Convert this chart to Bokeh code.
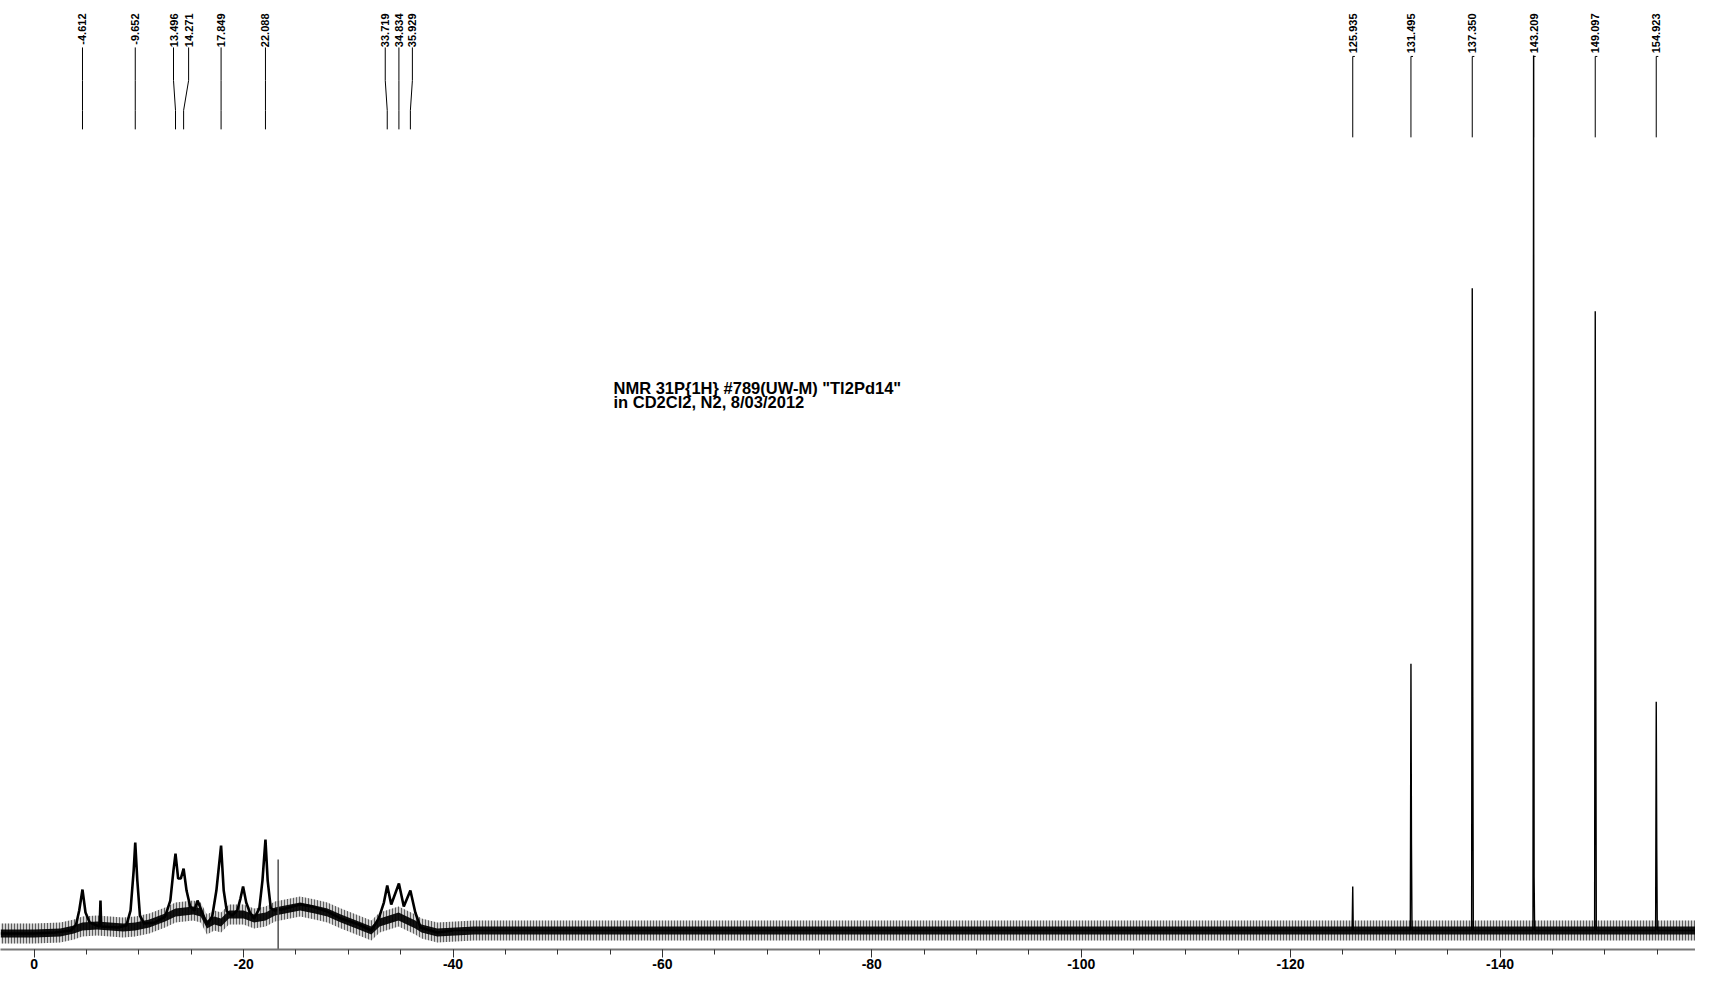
import math
from bokeh.plotting import figure
from bokeh.models import Range1d, FixedTicker, CustomJSTickFormatter, Label
from bokeh.core.properties import value
from bokeh.embed import file_html
from bokeh.resources import INLINE

# ---------------- data ----------------
# labelled peaks (ppm) and their printed labels
peak_ppm = [-4.612, -9.652, -13.496, -14.271, -17.849, -22.088, -33.719, -34.834, -35.929,
            -125.935, -131.495, -137.350, -143.209, -149.097, -154.923]
peak_labels = ["-4.612", "-9.652", "13.496", "14.271", "17.849", "22.088", "33.719", "34.834",
               "35.929", "125.935", "131.495", "137.350", "143.209", "149.097", "154.923"]

# broad region of the spectrum (ppm, intensity, arbitrary units)
broad_ppm = [3.2, 0.0, -2.0, -3.5, -4.0, -4.3, -4.612, -4.9, -5.3, -6.0, -6.25, -6.33, -6.4, -8.0,
             -8.8, -9.2, -9.5, -9.652, -9.85, -10.1, -10.5, -11.5, -12.5, -13.0, -13.3, -13.496,
             -13.75, -14.0, -14.271, -14.55, -14.9, -15.3, -15.6, -15.9, -16.5, -17.0, -17.4,
             -17.849, -18.1, -18.4, -18.9, -19.4, -19.7, -19.95, -20.25, -20.6, -21.0, -21.5,
             -21.8, -22.088, -22.3, -22.6, -23.0, -24.0, -25.4, -26.5, -28.0, -29.3, -31.0,
             -32.2, -32.9, -33.4, -33.719, -34.1, -34.834, -35.3, -35.929, -36.4, -36.9, -38.5,
             -40.0]
broad_int = [-3, -3, -2, 0, 6, 20, 41, 18, 8, 5, 4, 30, 4, 3,
             5, 20, 60, 88, 50, 15, 7, 8, 14, 30, 60, 77,
             52, 52, 62, 40, 24, 20, 30, 22, 6, 14, 40,
             85, 40, 19, 15, 20, 32, 44, 28, 18, 12, 22,
             50, 91, 50, 22, 20, 22, 26, 24, 19, 12, 6,
             0, 12, 28, 45, 26, 47, 24, 40, 18, 3, -2,
             0]

# sharp lines: position, height, height of the adjacent shoulder line
sharp_ppm = [-125.935, -131.495, -137.350, -143.209, -149.097, -154.923]
sharp_h = [44, 267, 643, 876, 620, 229]
sharp_h2 = [0, 87, 234, 53, 278, 81]

# noise band centre (local baseline)
band_ppm = [3.2, 0.0, -2.5, -3.8, -4.6, -6.0, -8.5, -9.65, -11.0, -12.5, -13.5, -15.2, -15.9,
            -16.5, -17.2, -17.85, -18.6, -20.0, -21.0, -22.1, -23.0, -25.4, -26.8, -28.0, -29.3,
            -31.0, -32.2, -33.0, -34.8, -36.4, -37.0, -38.5, -42.0, -160.0]
band_lvl = [-3, -3, -2, 1, 4, 5, 3, 4, 7, 13, 18, 20, 18,
            6, 10, 8, 16, 16, 12, 14, 19, 24, 21, 18, 12,
            5, 0, 8, 14, 6, 2, -2, 0, 0]

# artifact line
artifact_ppm = -23.3
artifact_top = 71

# axis ticks
major_ticks = [0, -20, -40, -60, -80, -100, -120, -140]
minor_ticks = list(range(0, -160, -5))

title_1 = 'NMR 31P{1H} #789(UW-M) "Tl2Pd14"'
title_2 = "in CD2Cl2, N2, 8/03/2012"

# ---------------- layout constants ----------------
W, H = 1695, 971
PX_PER_PPM = 10.47
ZERO_PX = 33.7             # x pixel of 0 ppm
BASE_PX = 931              # y pixel of the zero intensity line
FRAME_H = 950              # approx frame height (axis below takes the rest)


def yp(py):
    return BASE_PX - py


def xp(px):
    return (ZERO_PX - px) / PX_PER_PPM


p = figure(width=W, height=H, x_range=Range1d(xp(0), xp(W)),
           y_range=Range1d(BASE_PX - FRAME_H, BASE_PX),
           output_backend="svg", toolbar_location=None, y_axis_location=None,
           min_border=0, min_border_bottom=0)
p.outline_line_color = None
p.grid.visible = False
p.background_fill_color = "white"
p.border_fill_color = "white"

ax = p.xaxis[0]
ax.ticker = FixedTicker(ticks=major_ticks, minor_ticks=minor_ticks)
ax.formatter = CustomJSTickFormatter(code="return tick.toFixed(0);")
ax.axis_line_color = "#777777"
ax.axis_line_width = 2
ax.major_tick_line_color = "#333333"
ax.minor_tick_line_color = "#333333"
ax.major_tick_in = 0
ax.major_tick_out = 8
ax.minor_tick_in = 0
ax.minor_tick_out = 5
ax.major_label_standoff = 1
ax.major_label_text_font = "Liberation Sans"
ax.major_label_text_font_style = "bold"
ax.major_label_text_font_size = "14px"
ax.major_label_text_color = "black"

# noise band
HALF_OUT, HALF_IN = 10, 4
p.varea(x=band_ppm, y1=[v - HALF_OUT for v in band_lvl], y2=[v + HALF_OUT for v in band_lvl],
        fill_color="black", fill_alpha=0.18, hatch_pattern="vertical_line", hatch_scale=3,
        hatch_weight=1, hatch_color="black", hatch_alpha=0.55)
p.varea(x=band_ppm, y1=[v - HALF_IN for v in band_lvl], y2=[v + HALF_IN for v in band_lvl],
        fill_color="black", fill_alpha=0.92)

# broad part of spectrum
p.line(broad_ppm, broad_int, line_color="black", line_width=2.6)

# sharp part of spectrum
sx, sy = [-40.0], [0]
for pos, h, h2 in zip(sharp_ppm, sharp_h, sharp_h2):
    sx += [pos + 0.06, pos, pos - 0.05, pos - 0.1]
    sy += [0, h, h2, 0]
sx.append(-160.0)
sy.append(0)
p.line(sx, sy, line_color="black", line_width=1.4)

# artifact
p.segment(x0=[artifact_ppm], y0=[BASE_PX - FRAME_H - 5], x1=[artifact_ppm], y1=[artifact_top],
          line_color="#444444", line_width=1.4)

# peak label leader lines
shift_px = [0, 0, -2, 5, 0, 0, -2, 0, 2, 0, 0, 0, 0, 0, 0]
xs, ys, lx = [], [], []
for pos, sh in zip(peak_ppm, shift_px):
    x_lab = pos - sh / PX_PER_PPM
    lx.append(x_lab)
    if pos > -100:
        xs.append([x_lab, x_lab, pos, pos])
        ys.append([yp(47), yp(80), yp(110), yp(129)])
    else:
        xs.append([x_lab - 0.2, x_lab, x_lab])
        ys.append([yp(56), yp(56), yp(137)])
p.multi_line(xs=xs, ys=ys, line_color="black", line_width=1)

p.text(x=lx, y=[yp(13)] * len(lx), text=peak_labels, angle=math.pi / 2,
       text_align="right", text_baseline="middle", text_font=value("Liberation Sans"),
       text_font_style="bold", text_font_size="11px", text_color="black")

# title
for txt, py in ((title_1, 388), (title_2, 402)):
    p.add_layout(Label(x=xp(613), y=yp(py), text=txt, text_font="Liberation Sans",
                       text_font_style="bold", text_font_size="16.5px", text_color="black",
                       text_baseline="alphabetic"))

# PPM label at right end of axis
p.add_layout(Label(x=xp(1660), y=yp(962), text="PPM",
                   text_font="Liberation Sans", text_font_style="bold",
                   text_font_size="14px", text_baseline="middle", text_align="left"))

open("out.html", "w").write(file_html(p, INLINE))
